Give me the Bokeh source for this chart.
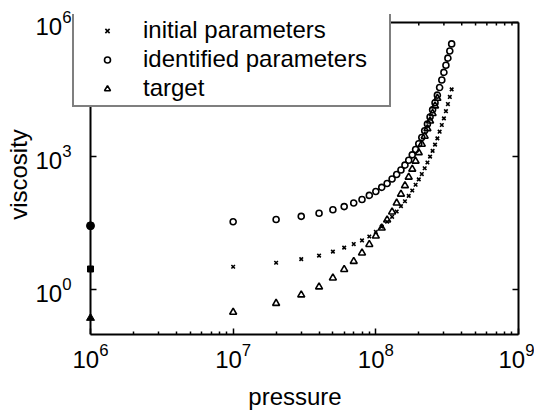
from bokeh.plotting import figure
from bokeh.models import FixedTicker, LogAxis, Legend, LegendItem, CustomJSTickFormatter
from bokeh.embed import file_html
from bokeh.resources import INLINE

# pressures (Pa): first point lies on the left border (1e6), the rest 1e7 .. 3.4e8
pressure = [1e6, 1e7, 2e7, 3e7, 4e7, 5e7, 6e7, 7e7, 8e7, 9e7,
            1.0e8, 1.1e8, 1.2e8, 1.3e8, 1.4e8, 1.5e8, 1.6e8, 1.7e8, 1.8e8, 1.9e8,
            2.0e8, 2.1e8, 2.2e8, 2.3e8, 2.4e8, 2.5e8, 2.6e8, 2.7e8, 2.8e8, 2.9e8,
            3.0e8, 3.1e8, 3.2e8, 3.3e8, 3.4e8]

initial = [2.95, 3.31, 4.07, 4.90, 5.89, 7.24, 8.91, 10.7, 12.9, 15.8,
           20.0, 26.3, 33.9, 43.7, 57.5, 75.9, 97.7, 129, 170, 229,
           302, 398, 537, 724, 977, 1318, 1820, 2512, 3548, 5012,
           7079, 10233, 14791, 21380, 31623]

identified = [27.5, 33.9, 38.0, 44.7, 52.5, 63.1, 74.1, 89.1, 107, 132,
              162, 200, 245, 309, 389, 490, 631, 813, 1072, 1413,
              1905, 2630, 3715, 5248, 7586, 10965, 15849, 23442, 34674, 51286,
              75858, 109648, 158489, 229087, 331131]

target = [0.234, 0.316, 0.501, 0.776, 1.17, 1.86, 2.88, 4.37, 6.76, 10.5,
          16.2, 24.5, 37.2, 56.2, 89.1, 141, 219, 339, 513, 776,
          1202, 1862, 2818, 4169, 6166, 9120, 13490, 19953]

x_major = [1e6, 1e7, 1e8, 1e9]
y_major = [1e0, 1e3, 1e6]
x_lim = (1e6, 1e9)
y_lim = (0.1, 1e6)
labels = ["initial parameters", "identified parameters", "target"]

FONT = "Liberation Sans"

# layout (pixels): axes box 428 x 312, plus a strip at the left/top of the
# frame so that the legend can overlap the axes box like in the original
W, H = 534, 412
BORDER_L, BORDER_R, BORDER_T, BORDER_B = 71, 16, 14, 78
EXTRA_L, EXTRA_T = 19, 8
px_dec_x = (W - BORDER_L - BORDER_R - EXTRA_L) / 3.0
px_dec_y = (H - BORDER_T - BORDER_B - EXTRA_T) / 7.0
x_start = x_lim[0] / 10 ** (EXTRA_L / px_dec_x)
y_end = y_lim[1] * 10 ** (EXTRA_T / px_dec_y)
TICK_MAJ, TICK_MIN = 6, 3

p = figure(width=W, height=H, x_axis_type="log", y_axis_type="log",
           x_range=(x_start, x_lim[1]), y_range=(y_lim[0], y_end),
           output_backend="svg", toolbar_location=None,
           min_border_left=BORDER_L, min_border_right=BORDER_R,
           min_border_top=BORDER_T, min_border_bottom=BORDER_B,
           background_fill_color="white", border_fill_color="white")
p.grid.visible = False
p.outline_line_color = None

x_minor = [m * d for d in x_major[:-1] for m in range(2, 10)]
blank = CustomJSTickFormatter(code="return ''")

def style(ax):
    ax.axis_line_color = "black"
    ax.axis_line_width = 2
    ax.major_tick_line_width = 1.5
    ax.minor_tick_line_width = 1.5
    ax.major_tick_in = TICK_MAJ
    ax.major_tick_out = 0
    ax.minor_tick_in = TICK_MIN
    ax.minor_tick_out = 0
    ax.major_label_text_font = FONT
    ax.major_label_text_color = "black"
    ax.major_label_text_font_size = "24px"
    ax.axis_label_text_font = FONT
    ax.axis_label_text_font_style = "normal"
    ax.axis_label_text_font_size = "24px"
    ax.axis_label_text_color = "black"

# bottom axis
xa = p.xaxis[0]
xa.ticker = FixedTicker(ticks=x_major, minor_ticks=x_minor)
style(xa)
xa.bounds = x_lim
xa.axis_label = "pressure"
xa.major_label_standoff = 8
xa.axis_label_standoff = 12

# left: labels only (sits at the frame edge), the axis line itself is drawn below
ya = p.yaxis[0]
ya.ticker = FixedTicker(ticks=y_major, minor_ticks=[])
style(ya)
ya.axis_line_color = None
ya.major_tick_in = 0
ya.minor_tick_in = 0
ya.major_label_standoff = 0
ya.axis_label = "viscosity"
ya.axis_label_standoff = 0

yline = LogAxis(ticker=FixedTicker(ticks=y_major, minor_ticks=[]), formatter=blank,
                bounds=y_lim, fixed_location=x_lim[0])
style(yline)
yline.major_label_standoff = 0
p.add_layout(yline, "left")

# right mirror axis
right = LogAxis(ticker=FixedTicker(ticks=y_major, minor_ticks=[]), formatter=blank,
                bounds=y_lim)
style(right)
right.major_label_standoff = 0
p.add_layout(right, "right")

# top border with inward ticks
p.segment(x0=[x_lim[0]], y0=[y_lim[1]], x1=[x_lim[1]], y1=[y_lim[1]],
          line_color="black", line_width=2, level="guide")
top_major = x_major[1:-1]
p.segment(x0=top_major, y0=[y_lim[1]] * len(top_major),
          x1=top_major, y1=[y_lim[1] / 10 ** (TICK_MAJ / px_dec_y)] * len(top_major),
          line_color="black", line_width=1.5, level="guide")
p.segment(x0=x_minor, y0=[y_lim[1]] * len(x_minor),
          x1=x_minor, y1=[y_lim[1] / 10 ** (TICK_MIN / px_dec_y)] * len(x_minor),
          line_color="black", line_width=1.5, level="guide")

r_init = p.scatter(pressure[1:], initial[1:], marker="x", size=5,
                   line_color="black", line_width=1.6)
r_iden = p.scatter(pressure[1:], identified[1:], marker="circle", size=6,
                   line_color="black", line_width=1.6, fill_color=None)
r_targ = p.scatter(pressure[1:len(target)], target[1:], marker="triangle", size=7,
                   line_color="black", line_width=1.6, fill_color=None)

# points lying on the left axis (drawn bold, as they merge with the axis line)
p.scatter([pressure[0]], [identified[0]], marker="circle", size=8,
          line_color="black", fill_color="black", level="overlay")
p.scatter([pressure[0]], [initial[0]], marker="square", size=6,
          line_color="black", fill_color="black", level="overlay")
p.scatter([pressure[0]], [target[0]], marker="triangle", size=8,
          line_color="black", fill_color="black", level="overlay")

legend = Legend(items=[LegendItem(label=labels[0], renderers=[r_init]),
                       LegendItem(label=labels[1], renderers=[r_iden]),
                       LegendItem(label=labels[2], renderers=[r_targ])],
                location=(1, H - BORDER_B - 107), orientation="vertical",
                padding=3, spacing=1, margin=0,
                glyph_width=60, glyph_height=15, label_standoff=6,
                label_width=243, label_height=24,
                label_text_font=FONT, label_text_font_size="24px",
                label_text_color="black",
                border_line_color="black", border_line_width=2,
                background_fill_color="white", background_fill_alpha=1)
p.add_layout(legend)

open("out.html", "w").write(file_html(p, INLINE))
